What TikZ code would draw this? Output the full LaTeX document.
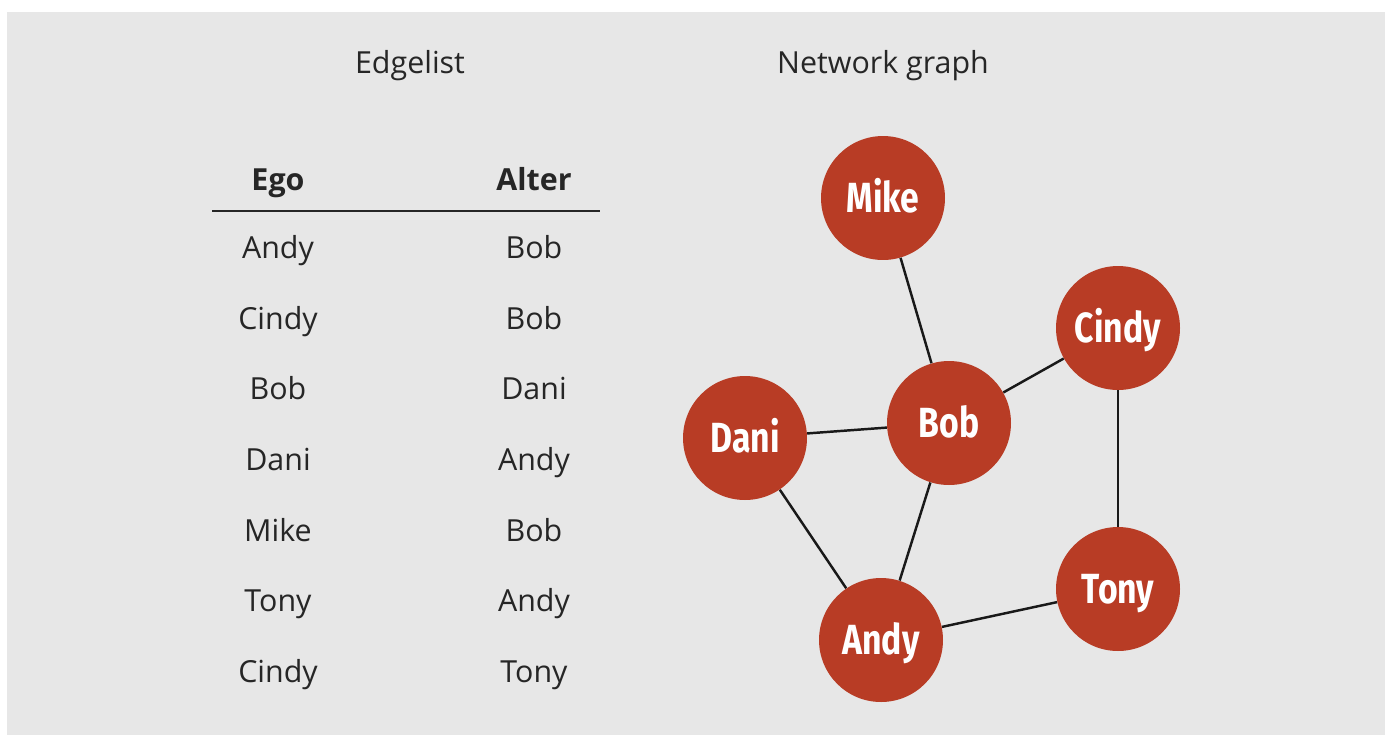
\documentclass[tikz,border=0pt]{standalone}
\usepackage{fontspec}
\setmainfont{Open Sans}
\newfontfamily\nodefont{Fira Sans}
\usetikzlibrary{positioning}

\newcommand{\narrow}[1]{\scalebox{0.8}[1]{#1}}

\begin{document}
\begin{tikzpicture}[x=0.02cm,y=-0.02cm]

\definecolor{panelgray}{HTML}{E7E7E7}
\definecolor{noderust}{HTML}{B83C25}

\tikzset{
  person/.style={circle,fill=noderust,draw=none,minimum size=2.48cm,inner sep=0pt,
    text=white,text height=16pt,text depth=0pt,
    font=\nodefont\bfseries\fontsize{24}{24}\selectfont},
  tie/.style={line width=1.4pt,black!90},
  cell/.style={font=\fontsize{17.3}{17.3}\selectfont,text=black!85,text height=12pt,text depth=0pt},
  head/.style={cell,font=\bfseries\fontsize{17.3}{17.3}\selectfont}
}

\useasboundingbox (0,0) rectangle (1385,735);
\fill[panelgray](7,12)rectangle(1385,735);

\node[cell] (title1) at (410,63) {Edgelist};
\node[cell] (title2) at (883,63) {Network graph};

% edgelist
\node[head] (ego) at (278,180) {Ego};
\node[head] (alter) at (534,180) {Alter};
\coordinate (ruleL) at (212,211);
\coordinate (ruleR) at (600,211);
\draw[line width=1.4pt,black!85](ruleL)--(ruleR);

\foreach \e/\a [count=\i] in {Andy/Bob,Cindy/Bob,Bob/Dani,Dani/Andy,Mike/Bob,Tony/Andy,Cindy/Tony}{
  \node[cell] (ego\i) at (278,177.5+70.6*\i) {\e};
  \node[cell] (alter\i) at (534,177.5+70.6*\i) {\a};
}

% network graph
\node[person] (mike) at (883,198) {\narrow{Mike}};
\node[person] (cindy) at (1118,328) {\narrow{Cindy}};
\node[person] (bob) at (949,423) {\narrow{Bob}};
\node[person] (dani) at (745,438) {\narrow{Dani}};
\node[person] (tony) at (1118,589) {\narrow{Tony}};
\node[person] (andy) at (881,640) {\narrow{Andy}};

\draw[tie](mike)--(bob);
\draw[tie](cindy)--(bob);
\draw[tie](dani)--(bob);
\draw[tie](bob)--(andy);
\draw[tie](dani)--(andy);
\draw[tie](andy)--(tony);
\draw[tie](cindy)--(tony);

\end{tikzpicture}
\end{document}
